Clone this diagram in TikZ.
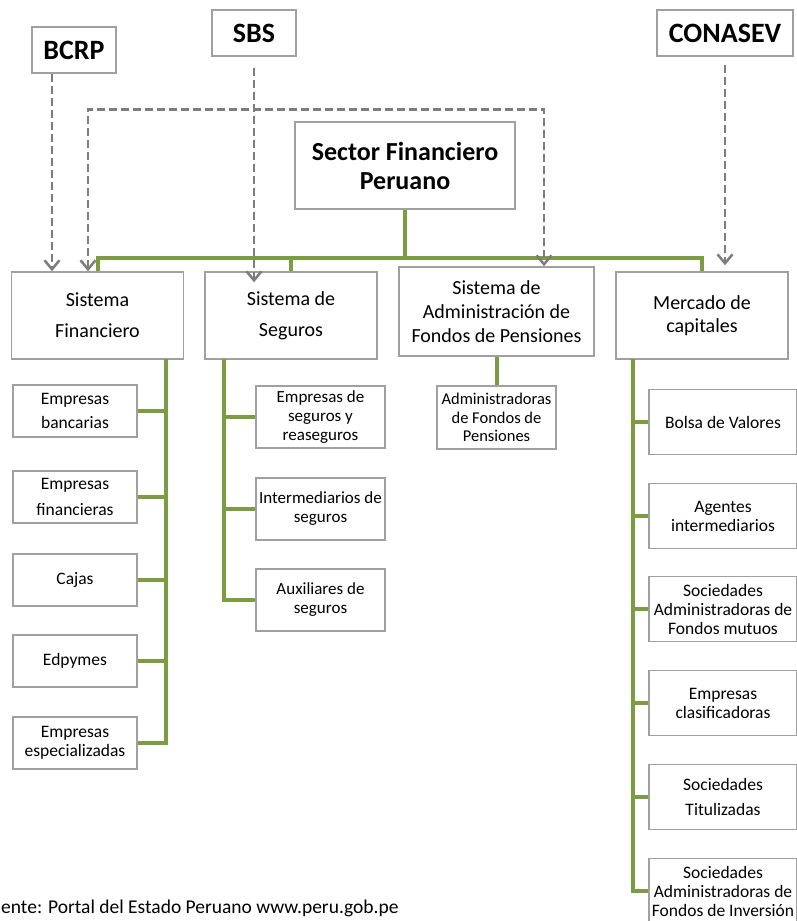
\documentclass[tikz,border=0pt]{standalone}
\usepackage{fontspec}
\setmainfont{Carlito}
\usetikzlibrary{arrows.meta}
\definecolor{busgreen}{RGB}{124,156,66}
\definecolor{boxgray}{RGB}{160,160,160}
\definecolor{linkgray}{RGB}{125,125,125}
\tikzstyle{entity}=[rectangle,draw=boxgray,line width=1.5pt,align=center,inner sep=1pt]
\tikzstyle{regulator}=[entity,minimum height=46pt,font=\fontsize{28}{32}\selectfont\bfseries]
\tikzstyle{sector}=[entity,minimum width=220pt,minimum height=87pt,font=\fontsize{26}{29}\selectfont\bfseries]
\tikzstyle{system}=[entity,minimum width=172pt,minimum height=87pt,font=\fontsize{20}{31}\selectfont]
\tikzstyle{bank}=[entity,minimum width=124pt,minimum height=52pt,font=\fontsize{17.5}{24}\selectfont]
\tikzstyle{insurer}=[entity,minimum width=129pt,minimum height=62pt,font=\fontsize{17}{19}\selectfont]
\tikzstyle{fund}=[entity,minimum width=119pt,minimum height=63pt,font=\fontsize{16.5}{18.5}\selectfont]
\tikzstyle{market}=[entity,minimum width=148pt,minimum height=65pt,font=\fontsize{17.5}{19}\selectfont]
\tikzstyle{bus}=[draw=busgreen,line width=4pt]
\tikzstyle{link}=[draw=linkgray,line width=2.5pt,dash pattern=on 8pt off 4pt,>={Straight Barb[length=9pt,width=15pt]}]

\begin{document}
\begin{tikzpicture}[x=1pt,y=-1pt]
\useasboundingbox (0,0) rectangle (796,921);

\node[regulator,minimum width=84pt] (bcrp) at (74,50) {BCRP};
\node[regulator,minimum width=84pt] (sbs) at (254,33) {SBS};
\node[regulator,minimum width=136pt] (conasev) at (725,33) {CONASEV};

\node[sector] (sfp) at (405,165.5) {Sector Financiero\\Peruano};

\node[system] (sf) at (97.5,315.5) {Sistema\\Financiero};
\node[system] (ss) at (291,315.5) {Sistema de\\Seguros};
\node[system,minimum width=195pt,minimum height=89pt,font=\fontsize{20}{24}\selectfont] (spp) at (496.5,311.5) {Sistema de\\Administración de\\Fondos de Pensiones};
\node[system,font=\fontsize{20}{23}\selectfont] (mc) at (702,315.5) {Mercado de\\capitales};

\node[bank] (f1) at (75,411) {Empresas\\bancarias};
\node[bank,font=\fontsize{17.5}{26}\selectfont] (f2) at (75,497) {Empresas\\financieras};
\node[bank] (f3) at (75,580) {Cajas};
\node[bank] (f4) at (75,661) {Edpymes};
\node[bank,font=\fontsize{17.5}{19}\selectfont] (f5) at (75,743) {Empresas\\especializadas};

\node[insurer] (s1) at (320.5,417) {Empresas de\\seguros y\\reaseguros};
\node[insurer] (s2) at (320.5,509) {Intermediarios de\\seguros};
\node[insurer] (s3) at (320.5,600) {Auxiliares de\\seguros};

\node[fund] (p1) at (496.5,417.5) {Administradoras\\de Fondos de\\Pensiones};

\node[market] (m1) at (723,422) {Bolsa de Valores};
\node[market] (m2) at (723,516) {Agentes\\intermediarios};
\node[market] (m3) at (723,609) {Sociedades\\Administradoras de\\Fondos mutuos};
\node[market] (m4) at (723,703) {Empresas\\clasificadoras};
\node[market,font=\fontsize{17.5}{25}\selectfont] (m5) at (723,797) {Sociedades\\Titulizadas};
\node[market] (m6) at (723,891) {Sociedades\\Administradoras de\\Fondos de Inversión};

\node[anchor=base west,inner sep=0pt,font=\fontsize{19.5}{22}\selectfont] (src) at (1,913) {ente: Portal del Estado Peruano www.peru.gob.pe};

% green tree
\coordinate (hub) at (405,258);
\coordinate (fbus) at (166,359);
\coordinate (sbus) at (224,359);
\coordinate (mbus) at (633,359);

\draw[bus] (sfp.south) -- (hub);
\draw[bus] (sf.north) |- (hub) -| (mc.north);
\draw[bus] (ss.north) -- (ss.north |- hub);

\draw[bus] (fbus) |- (f5.east);
\draw[bus] (f1.east) -- (f1.east -| fbus);
\draw[bus] (f2.east) -- (f2.east -| fbus);
\draw[bus] (f3.east) -- (f3.east -| fbus);
\draw[bus] (f4.east) -- (f4.east -| fbus);

\draw[bus] (sbus) |- (s3.west);
\draw[bus] (s1.west) -- (s1.west -| sbus);
\draw[bus] (s2.west) -- (s2.west -| sbus);

\draw[bus] (spp.south) -- (p1.north);

\draw[bus] (mbus) |- (m6.west);
\draw[bus] (m1.west) -- (m1.west -| mbus);
\draw[bus] (m2.west) -- (m2.west -| mbus);
\draw[bus] (m3.west) -- (m3.west -| mbus);
\draw[bus] (m4.west) -- (m4.west -| mbus);
\draw[bus] (m5.west) -- (m5.west -| mbus);

% supervision
\draw[link,->] ([xshift=-22pt]bcrp.south) -- ([xshift=-22pt]bcrp.south |- sf.north);
\draw[link,->] ([yshift=-11pt]sbs.south) -- ([yshift=-11pt]sbs.south |- ss.north);
\draw[link,->] ([yshift=-8pt]conasev.south) -- ([yshift=6pt]conasev.south |- mc.north);
\draw[link,<->] ([xshift=-9.5pt]sf.north) -- ++(0,-162) -| ([xshift=47.5pt]spp.north);

\end{tikzpicture}
\end{document}
